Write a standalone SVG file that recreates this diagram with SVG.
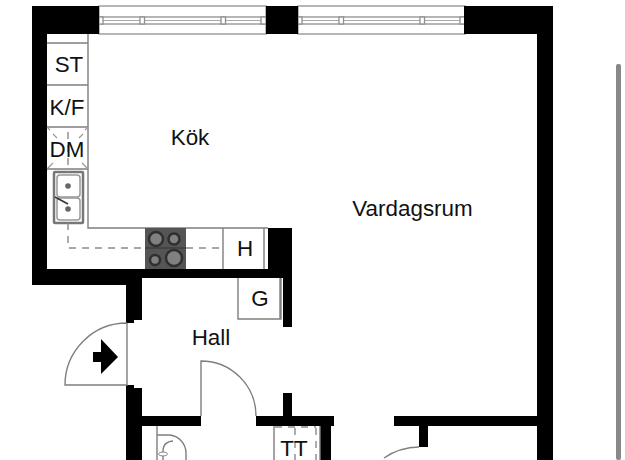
<svg xmlns="http://www.w3.org/2000/svg" width="625" height="460" viewBox="0 0 625 460">
<style>
.w{fill:#000}
.t{fill:none;stroke:#7f7f7f;stroke-width:1.4}
.d{fill:none;stroke:#8a8a8a;stroke-width:1.4;stroke-dasharray:7 6}
.win{fill:#fff;stroke:#8f8f8f;stroke-width:1.3}
text{font-family:"Liberation Sans",Arial,sans-serif;font-size:22.4px;fill:#111;text-anchor:middle}
</style>
<defs>
<g id="pane">
<rect x="0" y="0" width="167" height="28" class="win"/>
<rect x="0" y="11" width="167" height="7" class="win"/>
<line x1="0" y1="14.5" x2="167" y2="14.5" stroke="#aaa" stroke-width="1"/>
<rect x="0" y="11" width="4" height="7" class="win"/>
<rect x="41" y="11" width="4.500" height="7" class="win"/>
<rect x="122" y="11" width="4.500" height="7" class="win"/>
<rect x="162" y="11" width="5" height="7" class="win"/>
</g>
</defs>
<rect width="625" height="460" fill="#fff"/>
<rect x="616" y="64" width="5" height="396" rx="2" fill="#888"/>
<g id="windows">
<use href="#pane" x="99" y="6"/>
<use href="#pane" x="298" y="6"/>
</g>
<g id="walls">
<path class="w" d="M32 6H99V34H47V269H268V228H292V327H283V278H142V320H134V323H126V285H32Z"/>
<rect class="w" x="266" y="6" width="32" height="28"/>
<path class="w" d="M464 6H553V460H537V34H464Z"/>
<path class="w" d="M126 385H134V388H142V416H201V426H142V460H126Z"/>
<path class="w" d="M256 416H283V393H292V416H334V426H331V460H320V426H256Z"/>
<path class="w" d="M394 416H537V426H428V447H419V426H394Z"/>
</g>
<g id="kitchen-counter">
<path class="t" d="M88 34V228H268M47 43H88M47 85H88M47 127H88M47 169H88M223 228V269M264 228V269"/>
<path d="M47 169L53 163M88 169L82 163M47 127L50 130M88 127L85 130M57 138L53 134M79 138L83 134" fill="none" stroke="#999" stroke-width="1.2"/>
</g>
<g id="sink">
<rect x="54" y="172" width="29" height="51" rx="1" fill="none" stroke="#777" stroke-width="2.500"/>
<rect x="57" y="175" width="23" height="22" rx="3" fill="none" stroke="#999" stroke-width="1.5"/>
<rect x="57" y="198" width="23" height="22" rx="3" fill="none" stroke="#999" stroke-width="1.5"/>
<circle cx="68" cy="186" r="2.800" fill="#666"/>
<circle cx="68" cy="209" r="2.800" fill="#666"/>
<line x1="55" y1="197" x2="68" y2="204" stroke="#333" stroke-width="1.500"/>
</g>
<g id="service-lines">
<path class="d" d="M68 132V172M68 223V248H145M186 248H223"/>
</g>
<g id="stove">
<rect x="145" y="228" width="41" height="41" fill="#555"/>
<line x1="145" y1="248" x2="186" y2="248" stroke="#333"/>
<circle cx="156" cy="239" r="7" fill="#808080" stroke="#2f2f2f" stroke-width="2.500"/>
<circle cx="174" cy="239" r="5.500" fill="#808080" stroke="#2f2f2f" stroke-width="2.500"/>
<circle cx="155" cy="260" r="5" fill="#808080" stroke="#2f2f2f" stroke-width="2.500"/>
<circle cx="174" cy="258" r="8" fill="#808080" stroke="#2f2f2f" stroke-width="2.500"/>
</g>
<g id="wardrobe-g">
<path class="t" d="M238 278V319H281V278M280 278V319"/>
</g>
<g id="entrance">
<path class="t" d="M127 323V385H65A62 62 0 0 1 127 323"/>
<path class="w" d="M93 352H101V339L118 357L101 374V362H93Z"/>
</g>
<g id="hall-door">
<path class="t" d="M201 416V361A55 55 0 0 1 256 416"/>
</g>
<g id="bath">
<path class="t" d="M157 426V460M157 435H170C179 436 186 444 186 453V460M163 460V451C163 444 168 441 173 441"/>
<ellipse cx="163" cy="454" rx="4.500" ry="2" fill="#fff" stroke="#888"/>
</g>
<g id="tt">
<path class="t" d="M274 426V460M320 426V460"/>
<path class="d" d="M275 427H316M316 428V460M295 428V460"/>
</g>
<g id="room-door">
<path class="t" d="M419 447A63 63 0 0 0 384 458"/>
</g>
<g id="labels">
<text x="69" y="72">ST</text>
<text x="67" y="115">K/F</text>
<text x="67" y="157">DM</text>
<text x="190" y="145">Kök</text>
<text x="412.500" y="216">Vardagsrum</text>
<text x="245" y="256">H</text>
<text x="260" y="306">G</text>
<text x="211" y="345">Hall</text>
<text x="294" y="456">TT</text>
</g>
</svg>
